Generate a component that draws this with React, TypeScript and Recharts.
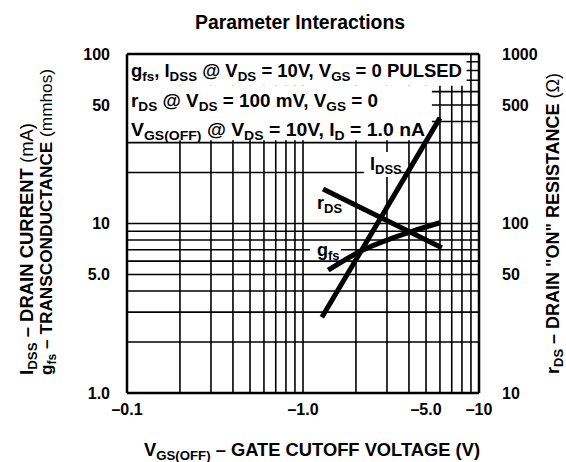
import React from "react";
import { CartesianGrid, Line, LineChart, ReferenceArea, ReferenceLine, XAxis, YAxis } from "recharts";

const FONT = "'Liberation Sans', Arial, Helvetica, sans-serif";

// |VGS(OFF)| in volts; axis is labelled with a minus sign
const gridVolts = [0.1, 0.2, 0.3, 0.4, 0.5, 0.6, 0.7, 0.8, 0.9, 1, 2, 3, 4, 5, 6, 7, 8, 9, 10];
const voltTicks = [0.1, 1, 5, 10];
const voltLabels = ["\u20130.1", "\u20131.0", "\u20135.0", "\u201310"];

// left axis: IDSS (mA) and gfs (mmhos)
const gridLeft = [1, 2, 3, 4, 5, 6, 7, 8, 9, 10, 20, 30, 40, 50, 60, 70, 80, 90, 100];
const leftTicks = [1, 5, 10, 50, 100];
const leftLabels = ["1.0", "5.0", "10", "50", "100"];

// right axis: rDS (ohms)
const rightTicks = [10, 50, 100, 500, 1000];
const rightLabels = ["10", "50", "100", "500", "1000"];

const idssVgs = [1.28, 6.0];
const idssMa = [2.8, 42];

const rdsVgs = [1.3, 6.15];
const rdsOhm = [160, 72];

const gfsVgs = [1.39, 2.03, 4.05, 6.0];
const gfsMmho = [5.3, 6.7, 8.9, 10.1];

const idssData = idssVgs.map((v, i) => ({ v, y: idssMa[i] }));
const rdsData = rdsVgs.map((v, i) => ({ v, y: rdsOhm[i] }));
const gfsData = gfsVgs.map((v, i) => ({ v, y: gfsMmho[i] }));

const tickStyle = { fontFamily: FONT, fontWeight: 700, fontSize: 16, fill: "#000" };

function XTick(props: any) {
  const i = voltTicks.indexOf(props.payload.value);
  if (i < 0) return <g />;
  return (
    <text x={props.x} y={props.y} dy="0.71em" textAnchor="middle" {...tickStyle}>
      {voltLabels[i]}
    </text>
  );
}

function LeftTick(props: any) {
  const i = leftTicks.indexOf(props.payload.value);
  if (i < 0) return <g />;
  return (
    <text x={props.x} y={props.y} dy="0.36em" textAnchor="end" {...tickStyle}>
      {leftLabels[i]}
    </text>
  );
}

function RightTick(props: any) {
  const i = rightTicks.indexOf(props.payload.value);
  if (i < 0) return <g />;
  return (
    <text x={props.x} y={props.y} dy="0.36em" textAnchor="start" {...tickStyle}>
      {rightLabels[i]}
    </text>
  );
}

function Sub({ children, size = 13 }: { children: React.ReactNode; size?: number }) {
  return (
    <>
      <tspan dy={4} fontSize={size}>
        {children}
      </tspan>
      <tspan dy={-4}>{"\u200B"}</tspan>
    </>
  );
}

function Overlay() {
  const t = { fontFamily: FONT, fontWeight: 700, fill: "#000" };
  const fit = (n: number) => ({ textLength: n, lengthAdjust: "spacingAndGlyphs" });
  return (
    <svg width={566} height={462} style={{ position: "absolute", left: 0, top: 0, pointerEvents: "none" }}>
      <text x={300} y={29} textAnchor="middle" fontSize={20} {...t} {...fit(210)}>
        Parameter Interactions
      </text>

      {/* conditions box */}
      <text x={131} y={77} fontSize={18} {...t} {...fit(331)}>
        g<Sub>fs</Sub>, I<Sub>DSS</Sub> @ V<Sub>DS</Sub> = 10V, V<Sub>GS</Sub> = 0 PULSED
      </text>
      <text x={131} y={107} fontSize={18} {...t} {...fit(247)}>
        r<Sub>DS</Sub> @ V<Sub>DS</Sub> = 100 mV, V<Sub>GS</Sub> = 0
      </text>
      <text x={131} y={136} fontSize={18} {...t} {...fit(294)}>
        V<Sub>GS(OFF)</Sub> @ V<Sub>DS</Sub> = 10V, I<Sub>D</Sub> = 1.0 nA
      </text>

      {/* curve labels */}
      <rect x={364} y={152} width={36} height={25} fill="#fff" />
      <text x={370} y={170} fontSize={18} {...t}>
        I<Sub>DSS</Sub>
      </text>
      <text x={317} y={209} fontSize={18} {...t}>
        r<Sub>DS</Sub>
      </text>
      <rect x={310} y={243} width={31} height={15} fill="#fff" />
      <text x={317} y={256} fontSize={18} {...t}>
        g<Sub>fs</Sub>
      </text>

      {/* axis titles */}
      <text transform="translate(33,375) rotate(-90)" fontSize={18} {...t} {...fit(252)}>
        I<Sub>DSS</Sub> {"\u2013"} DRAIN CURRENT <tspan fontWeight={400}>(mA)</tspan>
      </text>
      <text transform="translate(52,375) rotate(-90)" fontSize={17} {...t} {...fit(306)}>
        g<Sub size={12}>fs</Sub> {"\u2013"} TRANSCONDUCTANCE <tspan fontWeight={400}>(mmhos)</tspan>
      </text>
      <text transform="translate(559,374) rotate(-90)" fontSize={18} {...t} {...fit(301)}>
        r<Sub>DS</Sub> {"\u2013"} DRAIN "ON" RESISTANCE <tspan fontWeight={400}>({"\u03A9"})</tspan>
      </text>
      <text x={312} y={456} textAnchor="middle" fontSize={18} {...t} {...fit(336)}>
        V<Sub>GS(OFF)</Sub> {"\u2013"} GATE CUTOFF VOLTAGE (V)
      </text>
    </svg>
  );
}

export default function App() {
  return (
    <div style={{ position: "absolute", left: 0, top: 0, width: 566, height: 462, background: "#fff" }}>
      <LineChart width={566} height={462} margin={{ top: 54, right: 27, bottom: 39, left: 67 }}>
        <CartesianGrid yAxisId="l" stroke="#000" strokeWidth={1.6} />
        <XAxis
          dataKey="v"
          type="number"
          scale="log"
          domain={[0.1, 10]}
          allowDataOverflow
          ticks={gridVolts}
          interval={0}
          height={30}
          tickSize={0}
          tickMargin={11}
          tickLine={false}
          axisLine={{ stroke: "#000", strokeWidth: 2.5 }}
          tick={XTick}
        />
        <YAxis
          yAxisId="l"
          type="number"
          scale="log"
          domain={[1, 100]}
          allowDataOverflow
          ticks={gridLeft}
          interval={0}
          width={60}
          tickSize={0}
          tickMargin={17}
          tickLine={false}
          axisLine={{ stroke: "#000", strokeWidth: 2.5 }}
          tick={LeftTick}
        />
        <YAxis
          yAxisId="r"
          orientation="right"
          type="number"
          scale="log"
          domain={[10, 1000]}
          allowDataOverflow
          ticks={rightTicks}
          interval={0}
          width={60}
          tickSize={0}
          tickMargin={23}
          tickLine={false}
          axisLine={{ stroke: "#000", strokeWidth: 2.5 }}
          tick={RightTick}
        />
        <ReferenceArea yAxisId="l" x1={0.1} x2={8.5} y1={65} y2={100} fill="#fff" fillOpacity={1} stroke="none" />
        <ReferenceArea yAxisId="l" x1={0.1} x2={5.4} y1={31} y2={65} fill="#fff" fillOpacity={1} stroke="none" />
        <ReferenceLine yAxisId="l" y={100} stroke="#000" strokeWidth={2.5} />
        <Line yAxisId="l" data={idssData} dataKey="y" type="linear" stroke="#000" strokeWidth={5} dot={false} isAnimationActive={false} />
        <Line yAxisId="r" data={rdsData} dataKey="y" type="linear" stroke="#000" strokeWidth={5} dot={false} isAnimationActive={false} />
        <Line yAxisId="l" data={gfsData} dataKey="y" type="monotone" stroke="#000" strokeWidth={5} dot={false} isAnimationActive={false} />
      </LineChart>
      <Overlay />
    </div>
  );
}
